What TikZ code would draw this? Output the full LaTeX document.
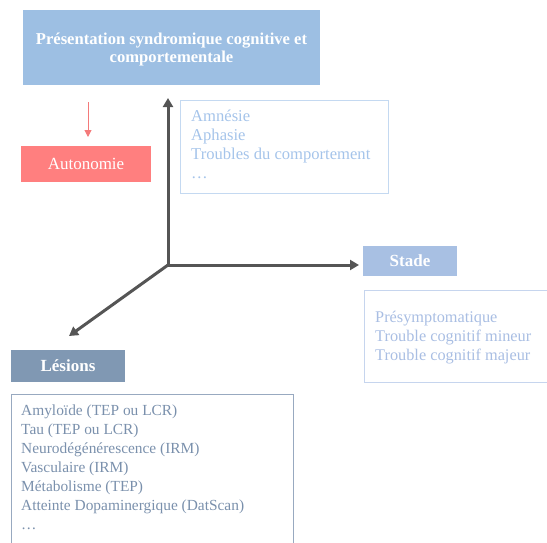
\documentclass[tikz,border=0pt]{standalone}
\usepackage{fontspec}
\setmainfont{Liberation Serif}
\usetikzlibrary{arrows.meta,positioning,calc}
\definecolor{topblue}{HTML}{9DBFE3}
\definecolor{autored}{HTML}{FF7F7F}
\definecolor{stadeblue}{HTML}{A8C0E3}
\definecolor{lesgray}{HTML}{8098B3}
\definecolor{amtext}{HTML}{A5C4EA}
\definecolor{amborder}{HTML}{C4D9F1}
\definecolor{sttext}{HTML}{A9BEE3}
\definecolor{stborder}{HTML}{C6D5EE}
\definecolor{lestext}{HTML}{7A90AC}
\definecolor{lesborder}{HTML}{98A9C0}
\definecolor{axisgray}{HTML}{555555}
\definecolor{pinkline}{HTML}{F47A7A}
\tikzset{
  headbox/.style={fill=#1, draw=none, text=white, font=\bfseries\fontsize{17}{19}\selectfont, align=center, inner sep=0pt},
  listtext/.style={anchor=north west, align=left, inner sep=0pt, text=#1},
  axisarrow/.style={draw=axisgray, line width=3pt, -{Triangle[length=9pt,width=10pt]}},
}
\begin{document}
\begin{tikzpicture}[x=1pt,y=-1pt]
\useasboundingbox (0,0) rectangle (547,542);
\clip (0,0) rectangle (547,542);
% top header
\node[headbox=topblue, minimum width=297pt, minimum height=75pt] (top) at (171.5,47.5) {};
\node[text=white, font=\bfseries\fontsize{16.6}{18}\selectfont, align=center, inner sep=0pt] (toptext) at (171.5,49.5)
  {Présentation syndromique cognitive et\\comportementale};
% autonomie
\node[headbox=autored, font=\fontsize{17}{19}\selectfont, minimum width=130pt, minimum height=36pt] (auto) at (86,164) {Autonomie};
\coordinate (pa) at (88,102);
\coordinate (pb) at (88,137);
\draw[pinkline, line width=1pt, -{Triangle[length=7pt,width=7pt]}] (pa) -- (pb);
% amnesie list
\draw[amborder, line width=1pt] (180,100) rectangle (388,193);
\node[listtext=amtext, font=\fontsize{16.6}{19}\selectfont] (amlist) at (191,110)
  {Amnésie\\Aphasie\\Troubles du comportement\\\ldots};
% stade
\node[headbox=stadeblue, minimum width=94pt, minimum height=30pt] (stade) at (410,261) {Stade};
\draw[stborder, line width=1pt] (364,290) rectangle (552,382);
\node[listtext=sttext, font=\fontsize{16.3}{19}\selectfont] (stlist) at (375,311)
  {Présymptomatique\\Trouble cognitif mineur\\Trouble cognitif majeur};
% lesions
\node[headbox=lesgray, minimum width=114pt, minimum height=32pt] (les) at (68,365.5) {Lésions};
\draw[lesborder, line width=1pt] (11,394) rectangle (293,548);
\node[listtext=lestext, font=\fontsize{15.4}{18.9}\selectfont] (leslist) at (21,405)
  {Amyloïde (TEP ou LCR)\\Tau (TEP ou LCR)\\Neurodégénérescence (IRM)\\Vasculaire (IRM)\\Métabolisme (TEP)\\Atteinte Dopaminergique (DatScan)\\\ldots};
% axes
\coordinate (o) at (168,265);
\coordinate (ytip) at (168,98);
\coordinate (xtip) at (359,265);
\coordinate (ztip) at (69,336);
\draw[axisarrow] (o) -- (ytip);
\draw[axisarrow] (o) -- (xtip);
\draw[axisarrow] (o) -- (ztip);
\end{tikzpicture}
\end{document}
